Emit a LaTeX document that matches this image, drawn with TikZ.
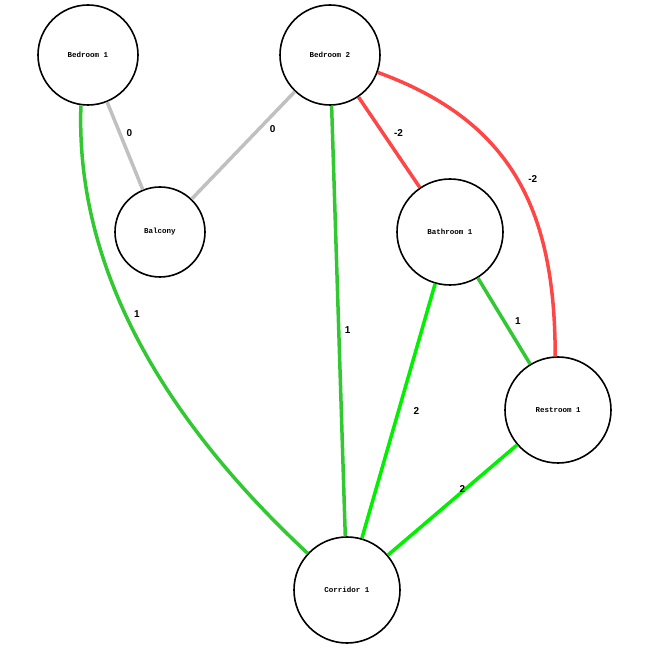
\documentclass[tikz,border=0pt]{standalone}
\usepackage{fontspec}
\setmonofont{Liberation Mono}
\setsansfont{Liberation Sans}
\begin{document}
\begin{tikzpicture}[x=1pt,y=-1pt,
 room/.style={circle,draw,line width=1.6pt,fill=white,font=\ttfamily\bfseries\fontsize{7.5}{9}\selectfont,inner sep=0pt},
 lab/.style={font=\sffamily\bfseries\fontsize{10}{12}\selectfont},
 gry/.style={line width=3.5pt,draw={rgb,255:red,192;green,192;blue,192}},
 gr/.style={line width=3.5pt,draw={rgb,255:red,50;green,200;blue,50}},
 lg/.style={line width=3.5pt,draw={rgb,255:red,0;green,240;blue,0}},
 rd/.style={line width=3.5pt,draw={rgb,255:red,255;green,70;blue,70}}]
\useasboundingbox (0,0) rectangle (654,652);
\node[room,minimum size=100pt] (b1) at (88,55) {Bedroom 1};
\node[room,minimum size=100pt] (b2) at (330,55) {Bedroom 2};
\node[room,minimum size=90pt] (bal) at (160,232) {Balcony};
\node[room,minimum size=106pt] (ba) at (450,232) {Bathroom 1};
\node[room,minimum size=106pt] (re) at (558,410) {Restroom 1};
\node[room,minimum size=106pt] (co) at (347,590) {Corridor 1};
\path[gry] (b1) -- node[lab,pos=0.35,right=2pt]{0} (bal);
\path[gry] (b2) -- node[lab,pos=0.35,right=6pt]{0} (bal);
\path[gr] (b1.-98) to[out=-92,in=137,looseness=0.9] node[lab,pos=0.42,right=4pt]{1} (co.137);
\path[gr] (b2) -- node[lab,pos=0.52,right=1pt]{1} (co);
\path[rd] (b2) -- node[lab,pos=0.4,right=6pt]{-2} (ba);
\path[rd] (b2.-20) to[out=-20,in=90,looseness=1.1] node[lab,pos=0.5,right=6pt]{-2} (re.93);
\path[gr] (ba) -- node[lab,pos=0.5,right=6pt]{1} (re);
\path[lg] (ba) -- node[lab,pos=0.5,right=10pt]{2} (co);
\path[lg] (re) -- node[lab,pos=0.5,above right=2pt]{2} (co);
\end{tikzpicture}
\end{document}
